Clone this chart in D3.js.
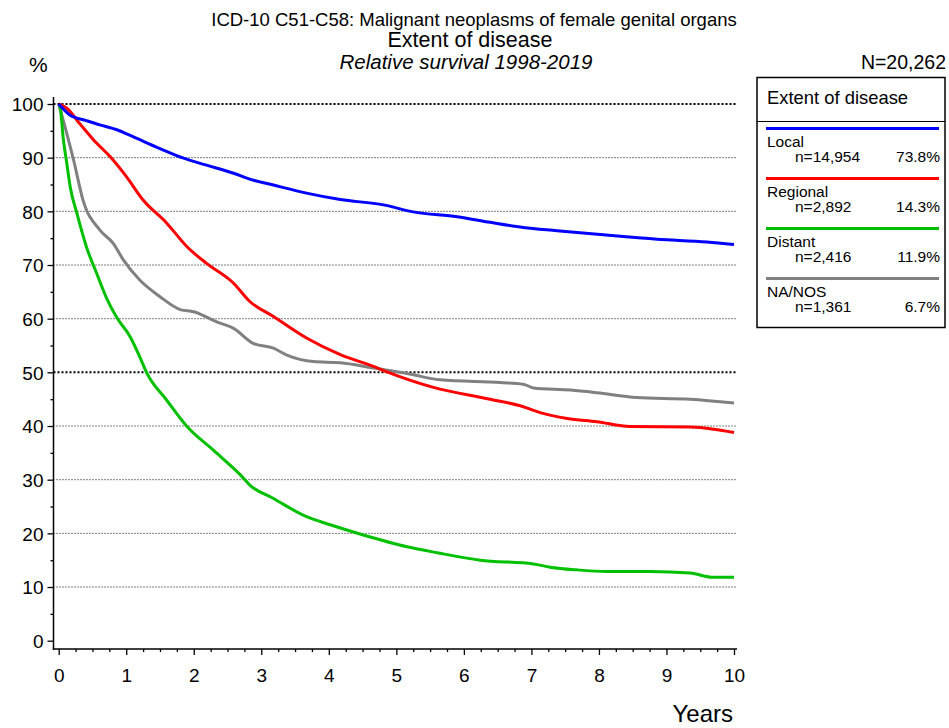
<!DOCTYPE html>
<html>
<head>
<meta charset="utf-8">
<script src="https://cdn.jsdelivr.net/npm/d3@7"></script>
<style>
  body { margin: 0; background: #fff; }
  svg { font-family: "Liberation Sans", Arial, sans-serif; }
</style>
</head>
<body>
<script>
// curves (years, relative survival %)
var localYears = [0, 0.17, 0.41, 0.61, 0.86, 1.1, 1.5, 1.85, 2.19, 2.59, 2.83, 3.18, 3.67, 4.17, 4.81, 5.25, 5.9, 6.39, 6.88, 7.38, 8.36, 8.86, 9.6, 10];
var localValues = [100, 97.9, 96.9, 96.1, 95.2, 93.9, 91.7, 89.9, 88.6, 87.1, 86.0, 84.9, 83.4, 82.2, 81.2, 79.9, 79.0, 77.95, 77.0, 76.4, 75.3, 74.8, 74.3, 73.8];

var regionalYears = [0, 0.12, 0.32, 0.51, 0.76, 1.0, 1.25, 1.6, 1.9, 2.19, 2.59, 2.83, 3.18, 3.67, 4.17, 4.66, 4.86, 5.55, 6.39, 6.88, 7.13, 7.53, 7.97, 8.46, 9.35, 9.7, 10];
var regionalValues = [100, 99.2, 96.2, 93.4, 90.2, 86.5, 82.1, 77.8, 73.4, 70.3, 66.6, 63.2, 60.4, 56.4, 53.3, 51.1, 50.1, 47.2, 45.0, 43.6, 42.5, 41.4, 40.8, 39.9, 39.8, 39.4, 38.8];

var distantYears = [0, 0.02, 0.07, 0.12, 0.17, 0.27, 0.41, 0.56, 0.71, 0.86, 1.06, 1.2, 1.3, 1.6, 1.9, 2.29, 2.69, 2.83, 3.18, 3.67, 4.02, 4.51, 5.16, 5.6, 6.24, 7.03, 7.28, 7.67, 8.12, 8.76, 9.35, 9.7, 10];
var distantValues = [100, 99.5, 93.3, 88.9, 84.6, 79.6, 73.4, 68.5, 63.8, 60.2, 56.6, 52.9, 50.0, 44.8, 39.9, 35.5, 30.9, 29.0, 26.5, 23.1, 21.6, 19.7, 17.5, 16.4, 15.0, 14.3, 13.7, 13.2, 12.9, 12.9, 12.6, 11.8, 11.8];

var nanosYears = [0, 0.12, 0.22, 0.36, 0.61, 0.81, 0.96, 1.2, 1.5, 1.8, 2.0, 2.34, 2.59, 2.88, 3.18, 3.38, 3.77, 4.17, 4.66, 5.16, 5.65, 6.54, 6.88, 7.03, 7.58, 7.97, 8.56, 9.35, 10];
var nanosValues = [100, 94.5, 89.6, 82.1, 76.5, 74.0, 70.9, 67.2, 64.1, 61.7, 61.3, 59.4, 58.2, 55.4, 54.5, 53.2, 52.0, 51.8, 50.8, 49.8, 48.6, 48.1, 47.8, 47.1, 46.7, 46.2, 45.3, 45.0, 44.3];

var legendNames = ["Local", "Regional", "Distant", "NA/NOS"];
var legendCounts = ["n=14,954", "n=2,892", "n=2,416", "n=1,361"];
var legendShares = ["73.8%", "14.3%", "11.9%", "6.7%"];
var colors = ["#0000ff", "#ff0000", "#00c000", "#808080"];

var yTicks = [0, 10, 20, 30, 40, 50, 60, 70, 80, 90, 100];
var xTicks = [0, 1, 2, 3, 4, 5, 6, 7, 8, 9, 10];

var w = 949, h = 728;
var x = d3.scaleLinear().domain([0, 10]).range([58.7, 734]);
var y = d3.scaleLinear().domain([0, 100]).range([640.7, 104]);
var axisX = 53.5, axisY = 649;

var svg = d3.select("body").append("svg").attr("width", w).attr("height", h);

// titles
svg.append("text").attr("x", 474).attr("y", 26).attr("text-anchor", "middle")
  .style("font-size", "18.5px").text("ICD-10 C51-C58: Malignant neoplasms of female genital organs");
svg.append("text").attr("x", 470).attr("y", 47).attr("text-anchor", "middle")
  .style("font-size", "21.5px").text("Extent of disease");
svg.append("text").attr("x", 466).attr("y", 69).attr("text-anchor", "middle")
  .style("font-size", "20.5px").style("font-style", "italic").text("Relative survival 1998-2019");
svg.append("text").attr("x", 29).attr("y", 72).style("font-size", "21px").text("%");
svg.append("text").attr("x", 946).attr("y", 69).attr("text-anchor", "end")
  .style("font-size", "19.5px").text("N=20,262");

// grid
svg.append("g").selectAll("line").data(yTicks.filter(function (d) { return d > 0; })).enter().append("line")
  .attr("x1", axisX).attr("x2", 737)
  .attr("y1", function (d) { return y(d); }).attr("y2", function (d) { return y(d); })
  .attr("stroke", "#000")
  .attr("stroke-width", function (d) { return d === 50 || d === 100 ? 2 : 1; })
  .attr("stroke-dasharray", function (d) { return d === 50 || d === 100 ? "2,2" : "1,2"; });

// y axis
var yAxis = d3.axisLeft(y).tickValues(yTicks).tickSize(6).tickPadding(4).tickFormat(function (d) { return d; });
var gy = svg.append("g").attr("transform", "translate(" + axisX + ",0)").call(yAxis);
gy.select(".domain").remove();
gy.selectAll("text").style("font-size", "19px").style("font-family", null).attr("fill", "#000").attr("dy", "0.36em");
gy.selectAll("line").attr("stroke-width", 1.3);
var yMinor = d3.axisLeft(y).tickValues(d3.range(5, 100, 10)).tickSize(3).tickFormat("");
var gym = svg.append("g").attr("transform", "translate(" + axisX + ",0)").call(yMinor);
gym.select(".domain").remove();
gym.selectAll("line").attr("stroke-width", 1.3);
svg.append("line").attr("x1", axisX).attr("x2", axisX).attr("y1", 97).attr("y2", axisY + 0.7)
  .attr("stroke", "#000").attr("stroke-width", 1.5);

// x axis
var xAxis = d3.axisBottom(x).tickValues(xTicks).tickSize(6).tickPadding(14).tickFormat(function (d) { return d; });
var gx = svg.append("g").attr("transform", "translate(0," + axisY + ")").call(xAxis);
gx.select(".domain").remove();
gx.selectAll("text").style("font-size", "19px").style("font-family", null).attr("fill", "#000");
gx.selectAll("line").attr("stroke-width", 1.3);
var xMinor = d3.axisBottom(x).tickValues(d3.range(0.25, 10, 0.25).filter(function (d) { return d % 1 !== 0; })).tickSize(3).tickFormat("");
var gxm = svg.append("g").attr("transform", "translate(0," + axisY + ")").call(xMinor);
gxm.select(".domain").remove();
gxm.selectAll("line").attr("stroke-width", 1.3);
svg.append("line").attr("x1", axisX - 0.7).attr("x2", 737).attr("y1", axisY).attr("y2", axisY)
  .attr("stroke", "#000").attr("stroke-width", 1.5);

svg.append("text").attr("x", 733).attr("y", 722).attr("text-anchor", "end")
  .style("font-size", "24px").text("Years");

// curves
var series = [
  [localYears, localValues],
  [regionalYears, regionalValues],
  [distantYears, distantValues],
  [nanosYears, nanosValues]
];
var line = d3.line().curve(d3.curveMonotoneX)
  .x(function (d) { return x(d[0]); }).y(function (d) { return y(d[1]); });
// gray first so the others sit on top
[3, 2, 1, 0].forEach(function (i) {
  var pts = d3.zip(series[i][0], series[i][1]);
  svg.append("path").datum(pts).attr("d", line)
    .attr("fill", "none").attr("stroke", colors[i]).attr("stroke-width", 3)
    .attr("stroke-linejoin", "round");
});

// legend
var lg = svg.append("g");
lg.append("rect").attr("x", 757).attr("y", 77.5).attr("width", 188).attr("height", 250)
  .attr("fill", "none").attr("stroke", "#000").attr("stroke-width", 1.5);
lg.append("line").attr("x1", 757).attr("x2", 945).attr("y1", 121.5).attr("y2", 121.5)
  .attr("stroke", "#000").attr("stroke-width", 1.2);
lg.append("text").attr("x", 767).attr("y", 104).style("font-size", "18.4px").text("Extent of disease");

var item = lg.selectAll("g.item").data(legendNames).enter().append("g").attr("class", "item")
  .attr("transform", function (d, i) { return "translate(0," + (128.5 + i * 50) + ")"; });
item.append("line").attr("x1", 766).attr("x2", 939).attr("y1", 0).attr("y2", 0)
  .attr("stroke", function (d, i) { return colors[i]; }).attr("stroke-width", 3);
item.append("text").attr("x", 767).attr("y", 18.5).style("font-size", "15.5px").text(function (d) { return d; });
item.append("text").attr("x", 795).attr("y", 33.5).style("font-size", "15.5px").text(function (d, i) { return legendCounts[i]; });
item.append("text").attr("x", 940).attr("y", 33.5).attr("text-anchor", "end").style("font-size", "15.5px").text(function (d, i) { return legendShares[i]; });
</script>
</body>
</html>
